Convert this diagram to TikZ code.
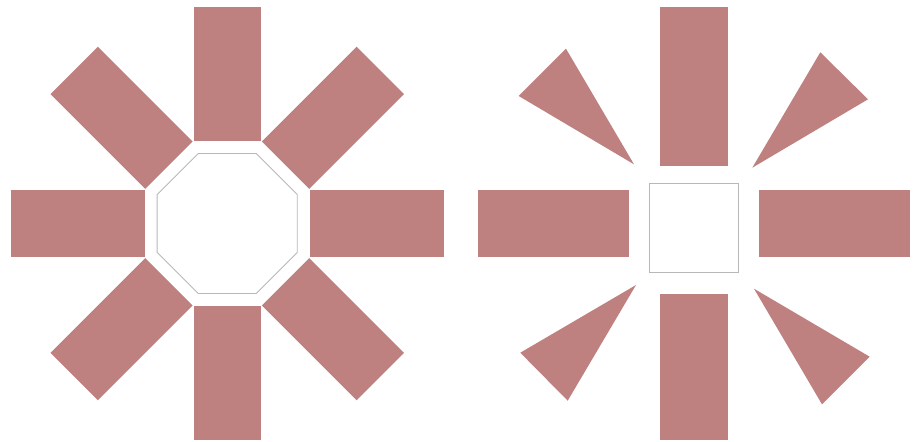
\documentclass[tikz,border=0pt]{standalone}
\usepackage{tikz}
\usetikzlibrary{calc}
\definecolor{rosewood}{RGB}{191,128,128}

\begin{document}
\begin{tikzpicture}[
  x=0.02cm, y=-0.02cm,
  ray/.style={fill=rosewood},
  hub/.style={draw=black!28, line width=0.5pt, fill=white}
]
\useasboundingbox (0,0) rectangle (914,441);
% left: eight bars round an octagon
\coordinate (lc) at (227.2,223.5);
\foreach \a in {0,45,...,315}
  \fill[ray, rotate around={\a:(lc)}] (193.7,7) rectangle (260.7,141);
\draw[hub] ($(lc)+(22.5:75.8)$) foreach \k in {1,...,7} { -- ($(lc)+(22.5+45*\k:75.8)$) } -- cycle;
% right: bars and wedges round a square
\fill[ray] (660.3,7) rectangle (727.7,165.7);
\fill[ray] (660.3,294) rectangle (727.7,440);
\fill[ray] (477.7,190) rectangle (629,257);
\fill[ray] (759.3,190) rectangle (910,257);
\fill[ray] (566,48.7) -- (518.7,96) -- (634,164.3) -- cycle;
\fill[ray] (820.3,52.3) -- (868,99.3) -- (752.3,167.7) -- cycle;
\fill[ray] (636,285) -- (520.3,352.7) -- (567.7,400.7) -- cycle;
\fill[ray] (754,288.7) -- (869.7,356.7) -- (822,404.3) -- cycle;
\draw[hub] (649.3,183.3) rectangle (738.7,272.7);
\end{tikzpicture}
\end{document}
